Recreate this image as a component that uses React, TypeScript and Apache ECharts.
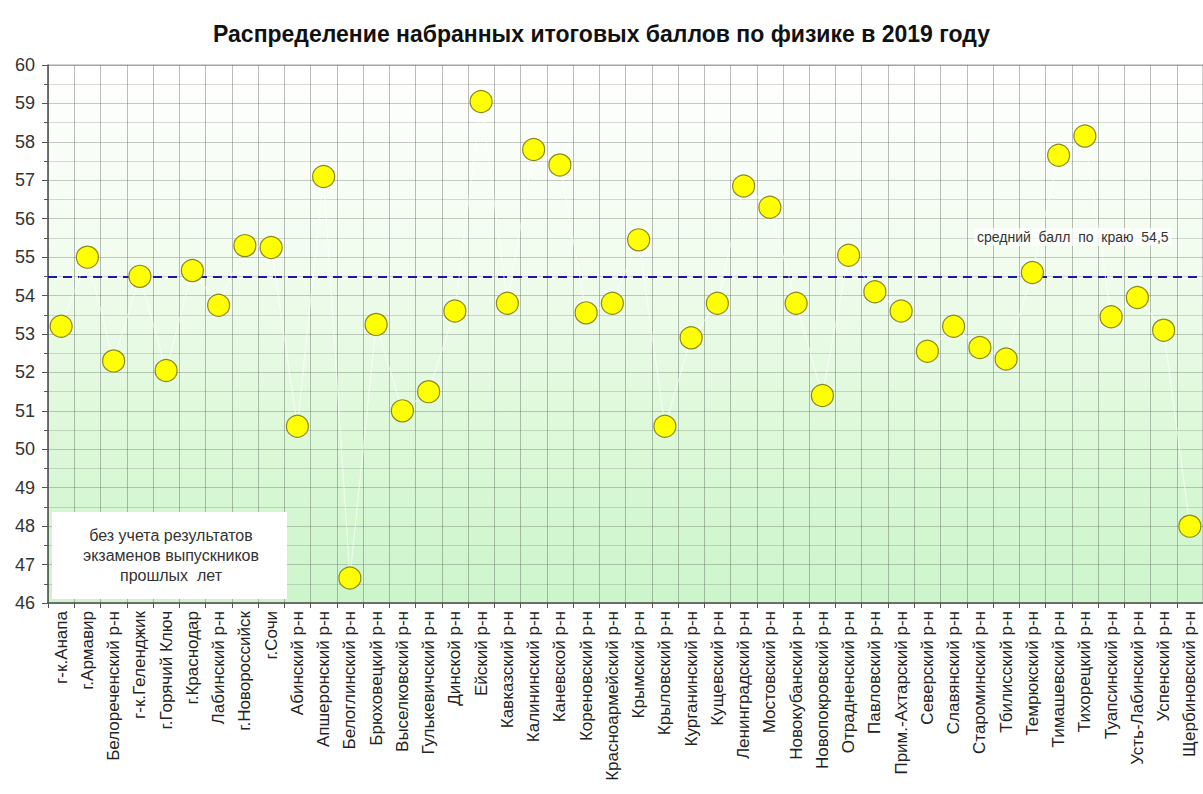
import React, { useEffect, useRef } from "react";
import * as echarts from "echarts";

const TITLE = "Распределение набранных итоговых баллов по физике в 2019 году";

const categories: string[] = [
  "г-к.Анапа", "г.Армавир", "Белореченский р-н", "г-к.Геленджик", "г.Горячий Ключ",
  "г.Краснодар", "Лабинский р-н", "г.Новороссийск", "г.Сочи", "Абинский р-н",
  "Апшеронский р-н", "Белоглинский р-н", "Брюховецкий р-н", "Выселковский р-н", "Гулькевичский р-н",
  "Динской р-н", "Ейский р-н", "Кавказский р-н", "Калининский р-н", "Каневской р-н",
  "Кореновский р-н", "Красноармейский р-н", "Крымский р-н", "Крыловский р-н", "Курганинский р-н",
  "Кущевский р-н", "Ленинградский р-н", "Мостовский р-н", "Новокубанский р-н", "Новопокровский р-н",
  "Отрадненский р-н", "Павловский р-н", "Прим.-Ахтарский р-н", "Северский р-н", "Славянский р-н",
  "Староминский р-н", "Тбилисский р-н", "Темрюкский р-н", "Тимашевский р-н", "Тихорецкий р-н",
  "Туапсинский р-н", "Усть-Лабинский р-н", "Успенский р-н", "Щербиновский р-н",
];

const scores: number[] = [
  53.2, 55.0, 52.3, 54.5, 52.05,
  54.65, 53.75, 55.3, 55.25, 50.6,
  57.1, 46.65, 53.25, 51.0, 51.5,
  53.6, 59.05, 53.8, 57.8, 57.4,
  53.55, 53.8, 55.45, 50.6, 52.9,
  53.8, 56.85, 56.3, 53.8, 51.4,
  55.05, 54.1, 53.6, 52.55, 53.2,
  52.65, 52.35, 54.6, 57.65, 58.15,
  53.45, 53.95, 53.1, 48.0,
];

const MEAN = 54.5;
const MEAN_LABEL = "средний  балл  по  краю  54,5";
const NOTE_LINES: string[] = ["без учета результатов", "экзаменов выпускников", "прошлых  лет"];

const Y_MIN = 46;
const Y_MAX = 60;

export default function App() {
  const ref = useRef<HTMLDivElement>(null);

  useEffect(() => {
    if (!ref.current) return;
    const chart = echarts.init(ref.current, undefined, { renderer: "svg" });
    const font = "'Liberation Sans', Arial, sans-serif";
    chart.setOption({
      animation: false,
      backgroundColor: "#ffffff",
      title: {
        text: TITLE,
        left: "center",
        top: 17,
        textStyle: { fontFamily: font, fontSize: 23, fontWeight: "bold", color: "#111" },
      },
      grid: {
        left: 48,
        right: 0,
        top: 65,
        bottom: 191,
        show: true,
        borderColor: "#a0a0a0",
        borderWidth: 1,
        backgroundColor: new echarts.graphic.LinearGradient(0, 0, 0, 1, [
          { offset: 0, color: "#ffffff" },
          { offset: 0.35, color: "#f2fcef" },
          { offset: 0.7, color: "#dcf8d8" },
          { offset: 1, color: "#ccf5cb" },
        ]),
      },
      xAxis: {
        type: "category",
        data: categories,
        boundaryGap: true,
        axisLine: { show: true, lineStyle: { color: "#555", width: 1.5 } },
        axisTick: { show: true, interval: 0, length: 5, lineStyle: { color: "#555" } },
        axisLabel: {
          interval: 0,
          rotate: 90,
          fontFamily: font,
          fontSize: 17,
          color: "#222",
          margin: 8,
        },
        splitLine: { show: true, interval: 0, lineStyle: { color: "rgba(90,100,90,0.42)", width: 1 } },
      },
      yAxis: {
        type: "value",
        min: Y_MIN,
        max: Y_MAX,
        interval: 1,
        axisLine: { show: true, lineStyle: { color: "#555", width: 1.5 } },
        axisTick: { show: true, length: 6, inside: false, lineStyle: { color: "#555" } },
        minorTick: { show: true, splitNumber: 2, length: 4, lineStyle: { color: "#555" } },
        axisLabel: { fontFamily: font, fontSize: 18, color: "#333", margin: 13 },
        splitLine: { show: true, lineStyle: { color: "rgba(90,100,90,0.34)", width: 1 } },
        minorSplitLine: { show: true, lineStyle: { color: "rgba(90,100,90,0.24)", width: 1 } },
      },
      series: [
        {
          type: "line",
          data: scores,
          symbol: "circle",
          symbolSize: 22,
          lineStyle: { color: "rgba(255,255,255,0.6)", width: 1.2 },
          itemStyle: { color: "#ffff00", borderColor: "#8a8a1c", borderWidth: 1.2 },
          z: 5,
          markLine: {
            silent: true,
            symbol: "none",
            label: { show: false },
            lineStyle: { color: "#1b1b9a", width: 2, type: [9, 6] },
            data: [{ yAxis: MEAN }],
            z: 4,
          },
        },
      ],
      graphic: [
        {
          type: "text",
          left: 974,
          top: 228,
          style: {
            text: MEAN_LABEL,
            font: `14px ${font}`,
            fill: "#333",
            backgroundColor: "rgba(255,255,255,0.75)",
            padding: [2, 3],
          },
          z: 10,
        },
        {
          type: "rect",
          shape: { x: 52, y: 512, width: 235, height: 87 },
          style: { fill: "#ffffff" },
          z: 10,
        },
        ...NOTE_LINES.map((t, i) => ({
          type: "text",
          x: 171,
          y: 535 + i * 20,
          style: {
            text: t,
            font: `16px ${font}`,
            fill: "#333",
            textAlign: "center",
            textVerticalAlign: "middle",
          },
          z: 11,
        })),
      ],
    });
    return () => chart.dispose();
  }, []);

  return (
    <div
      ref={ref}
      style={{ position: "fixed", left: 0, top: 0, width: 1203, height: 794, background: "#fff" }}
    />
  );
}
